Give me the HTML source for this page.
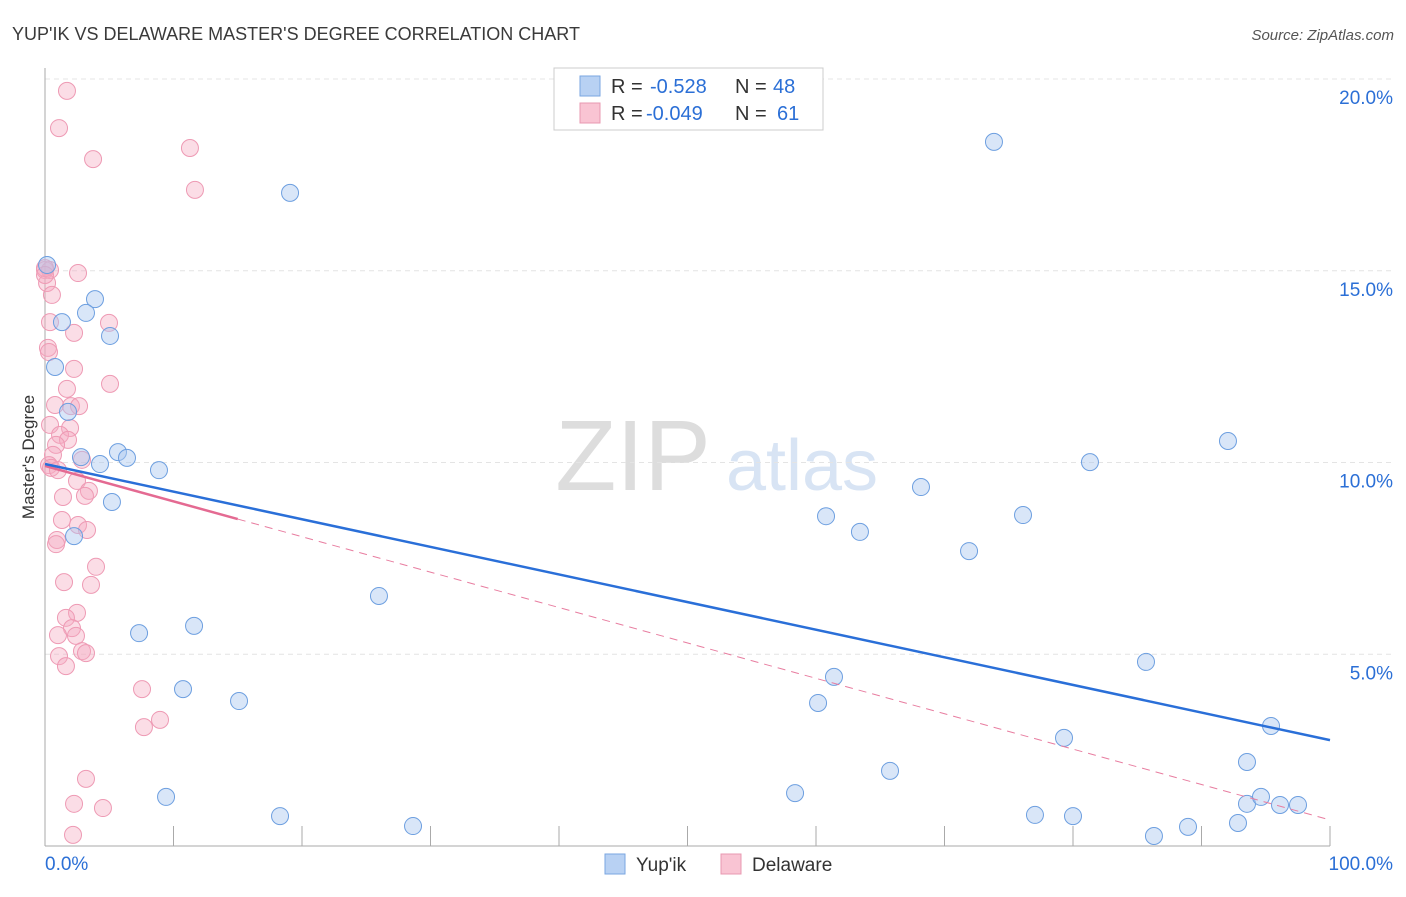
<!DOCTYPE html>
<html><head><meta charset="utf-8"><style>
body{margin:0;background:#fff;font-family:"Liberation Sans",sans-serif;}
svg text{font-family:"Liberation Sans",sans-serif;}
</style></head><body>
<svg id="c" width="1406" height="892">
<text x="12" y="40" font-size="18" fill="#3a3a3a">YUP'IK VS DELAWARE MASTER'S DEGREE CORRELATION CHART</text>
<text x="1394" y="40" font-size="15" fill="#555" text-anchor="end" font-style="italic">Source: ZipAtlas.com</text>
<text x="34" y="457" font-size="17" fill="#333" text-anchor="middle" transform="rotate(-90 34 457)">Master's Degree</text>
<g><text x="633" y="490" font-size="100" fill="#ddd" font-family="Liberation Serif" text-anchor="middle">ZIP</text><text x="802" y="490" font-size="72" fill="#d8e4f4" text-anchor="middle">atlas</text></g>
<g id="grid"></g><g id="marks"></g>
<g>
<rect x="554" y="68" width="269" height="62" fill="#fff" stroke="#ccc"/>
<rect x="580" y="76" width="20" height="20" fill="#b8d1f3" stroke="#7aa6e0"/>
<rect x="580" y="103" width="20" height="20" fill="#f9c4d3" stroke="#e898b0"/>
<text x="611" y="93" font-size="20" fill="#333">R =</text><text x="650" y="93" font-size="20" fill="#2b6fd6">-0.528</text><text x="735" y="93" font-size="20" fill="#333">N =</text><text x="773" y="93" font-size="20" fill="#2b6fd6">48</text>
<text x="611" y="120" font-size="20" fill="#333">R =</text><text x="646" y="120" font-size="20" fill="#2b6fd6">-0.049</text><text x="735" y="120" font-size="20" fill="#333">N =</text><text x="777" y="120" font-size="20" fill="#2b6fd6">61</text>
</g>
<g>
<rect x="605" y="854" width="20" height="20" fill="#b8d1f3" stroke="#7aa6e0"/><text x="636" y="871" font-size="19" fill="#333">Yup'ik</text>
<rect x="721" y="854" width="20" height="20" fill="#f9c4d3" stroke="#e898b0"/><text x="752" y="871" font-size="19" fill="#333">Delaware</text>
</g>
</svg>
<script>
const yTicks=[5,10,15,20];
const yTickLabels=["5.0%","10.0%","15.0%","20.0%"];
const xEnds=["0.0%","100.0%"];
const bluePx=[[47,265],[95,299],[86,313],[62,322],[110,336],[55,367],[68,412],[81,457],[118,452],[127,458],[100,464],[159,470],[112,502],[74,536],[290,193],[994,142],[379,596],[139,633],[194,626],[183,689],[239,701],[166,797],[280,816],[413,826],[826,516],[860,532],[921,487],[969,551],[1023,515],[1090,462],[1228,441],[834,677],[818,703],[1146,662],[1064,738],[890,771],[795,793],[1035,815],[1073,816],[1154,836],[1188,827],[1238,823],[1247,804],[1261,797],[1280,805],[1298,805],[1247,762],[1271,726]];
const pinkPx=[[67,91],[59,128],[93,159],[190,148],[195,190],[45,270],[50,270],[78,273],[47,283],[50,322],[109,323],[74,333],[48,348],[49,352],[74,369],[110,384],[67,389],[55,405],[71,406],[79,406],[50,425],[70,428],[60,435],[68,440],[56,445],[53,455],[82,460],[49,465],[77,481],[89,491],[63,497],[85,496],[78,525],[87,530],[57,540],[56,544],[96,567],[64,582],[91,585],[77,613],[66,618],[72,628],[76,636],[58,635],[82,651],[86,653],[59,656],[66,666],[142,689],[160,720],[144,727],[86,779],[74,804],[103,808],[73,835],[45,268],[45,275],[51,468],[58,470],[52,295],[62,520]];
const blueX=bluePx.map(p=>+((p[0]-45)/12.85).toFixed(2)), blueY=bluePx.map(p=>+((846-p[1])/38.35).toFixed(2));
const pinkX=pinkPx.map(p=>+((p[0]-45)/12.85).toFixed(2)), pinkY=pinkPx.map(p=>+((846-p[1])/38.35).toFixed(2));
const blueTrend=[9.96,2.76];
const pinkTrend=[9.91,0.68];
const pinkSolidEnd=15;
const X=v=>45+v*12.85, Y=v=>846-v*38.35;
const NS="http://www.w3.org/2000/svg";
function mk(t,a,p){const e=document.createElementNS(NS,t);for(const k in a)e.setAttribute(k,a[k]);p.appendChild(e);return e;}
const g=document.getElementById('grid'), m=document.getElementById('marks');
yTicks.forEach((t,i)=>{
 const l=mk('line',{x1:45,x2:1394,y1:Y(t),y2:Y(t),stroke:'#e4e4e4','stroke-dasharray':'5,4'},g);
 
 
 const tx=mk('text',{x:1393,y:Y(t)+25,'font-size':19,fill:'#2b6fd6','text-anchor':'end'},g);tx.textContent=yTickLabels[i];
 
 
});
mk('line',{x1:45,x2:45,y1:68,y2:846,stroke:'#aaa'},g);
mk('line',{x1:45,x2:1330,y1:846,y2:846,stroke:'#aaa'},g);
for(let i=0;i<=10;i++){mk('line',{x1:X(i*10),x2:X(i*10),y1:826,y2:846,stroke:'#aaa'},g);}
[[0,'start',45],[100,'end',1393]].forEach((d,i)=>{const t=mk('text',{x:d[2],y:870,'font-size':19,fill:'#2b6fd6','text-anchor':d[1]},g);t.textContent=xEnds[i];
 
 });
pinkX.forEach((x,i)=>{const c=mk('circle',{cx:X(x),cy:Y(pinkY[i]),r:8.5,fill:'rgba(246,170,193,0.4)',stroke:'#ee9ab4','stroke-width':1},m);
 
 });
blueX.forEach((x,i)=>{const c=mk('circle',{cx:X(x),cy:Y(blueY[i]),r:8.5,fill:'rgba(170,200,240,0.45)',stroke:'#6d9fe0','stroke-width':1},m);
 
 });
const pAt=x=>pinkTrend[0]+(pinkTrend[1]-pinkTrend[0])*x/100;
const pd=mk('line',{x1:X(pinkSolidEnd),y1:Y(pAt(pinkSolidEnd)),x2:X(100),y2:Y(pinkTrend[1]),stroke:'#e87da0','stroke-width':1,'stroke-dasharray':'8,6'},m);


const ps=mk('line',{x1:X(0),y1:Y(pinkTrend[0]),x2:X(pinkSolidEnd),y2:Y(pAt(pinkSolidEnd)),stroke:'#e46a92','stroke-width':2.5},m);


const bl=mk('line',{x1:X(0),y1:Y(blueTrend[0]),x2:X(100),y2:Y(blueTrend[1]),stroke:'#2a6fd8','stroke-width':2.5},m);


</script>
</body></html>
